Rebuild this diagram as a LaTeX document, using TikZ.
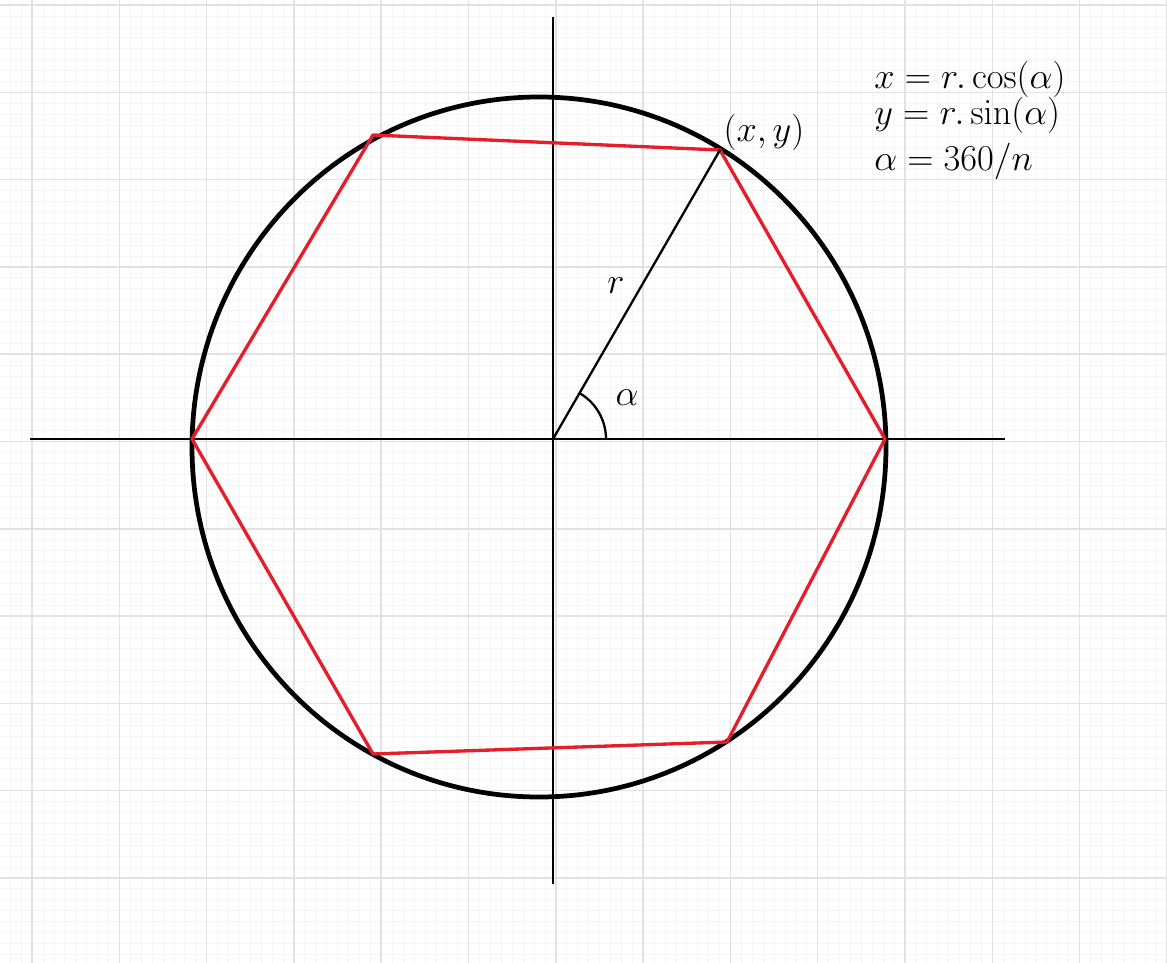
\documentclass[tikz,border=0pt]{standalone}
\usepackage{tikz}
\usetikzlibrary{positioning}
\definecolor{GridMajor}{HTML}{E2E2E2}
\definecolor{GridMinor}{HTML}{F5F5F5}
\definecolor{HexRed}{HTML}{E41E2B}
\tikzset{
  minorgrid/.style={draw=GridMinor,line width=.3pt},
  majorgrid/.style={draw=GridMajor,line width=.9pt},
  axis/.style={draw=black,line width=1.6pt},
  rim/.style={draw=black,line width=2.7pt},
  hexside/.style={draw=HexRed,line width=1.9pt,line join=round},
  spoke/.style={draw=black,line width=1.3pt},
  lab/.style={font=\fontsize{21}{24}\selectfont,inner sep=1pt},
  formula/.style={lab,anchor=west,inner sep=0pt,font=\fontsize{20}{24}\selectfont}
}

\begin{document}
\begin{tikzpicture}[x=0.02cm,y=-0.02cm]
        \useasboundingbox[fill=white] (0,0) rectangle (1167,963);
        % grid paper
        \foreach \k in {-4,...,104} \draw[minorgrid] (32+10.91*\k,0)--(32+10.91*\k,963);
        \foreach \k in {0,...,88} \draw[minorgrid] (0,5+10.91*\k)--(1167,5+10.91*\k);
        \foreach \k in {0,...,13} \draw[majorgrid] (32+87.3*\k,0)--(32+87.3*\k,963);
        \foreach \k in {0,...,11} \draw[majorgrid] (0,5+87.3*\k)--(1167,5+87.3*\k);
        % axes
        \coordinate (o) at (553,439);
        \coordinate (xl) at (30,439); \coordinate (xr) at (1005,439);
        \coordinate (yt) at (553,17); \coordinate (yb) at (553,884);
        \draw[axis] (xl)--(xr);
        \draw[axis] (yt)--(yb);
        % circle (hand drawn, slightly off the origin)
        \coordinate (c) at (539,447);
        \draw[rim] (c) ellipse [x radius=347,y radius=350];
        % hexagon corners
        \coordinate (p0) at (885,439); \coordinate (p1) at (720,150);
        \coordinate (p2) at (373,135); \coordinate (p3) at (192,439);
        \coordinate (p4) at (373,754); \coordinate (p5) at (727,742);
        \draw[hexside] (p0)--(p1)--(p2)--(p3)--(p4)--(p5)--cycle;
        % radius and angle
        \draw[spoke] (o)--(p1);
        \coordinate (a0) at (606,439);
        \draw[spoke] (a0) arc[start angle=0,end angle=-60,radius=53];
        \node[lab] (r) at (616,286) {$r$};
        \node[lab] (alpha) at (627,398) {$\alpha$};
        \node[lab] (pt) at (764,132) {$(x,y)$};
        % formulas
        \node[formula] (fx) at (874,79) {$x=r.\cos(\alpha)$};
        \node[formula] (fy) at (874,115) {$y=r.\sin(\alpha)$};
        \node[formula] (fa) at (874,161) {$\alpha=360/n$};
\end{tikzpicture}
\end{document}
